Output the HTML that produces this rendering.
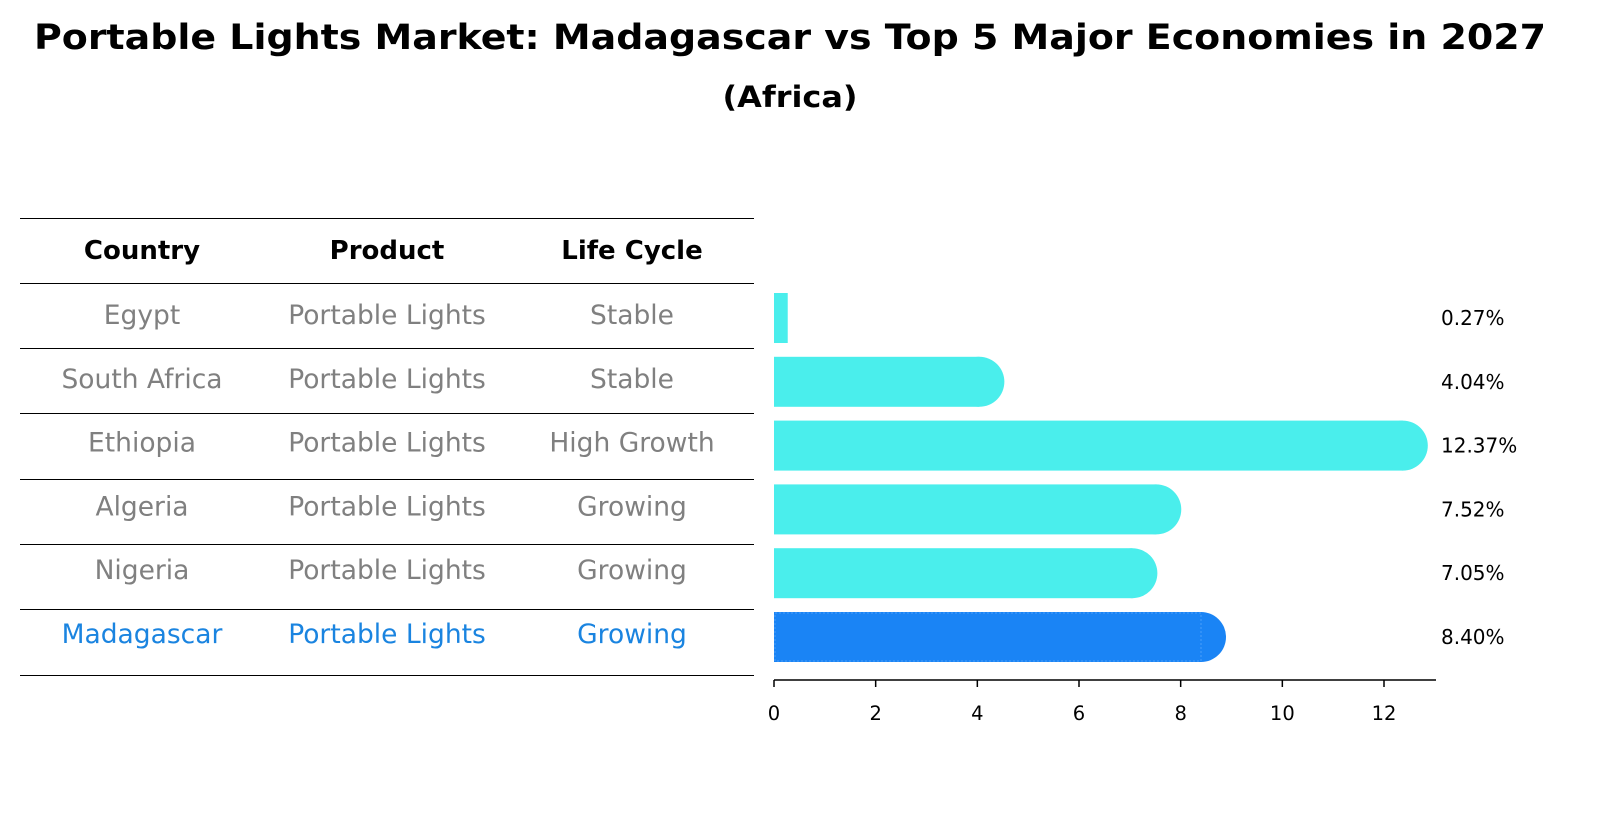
<!DOCTYPE html>
<html><head><meta charset="utf-8"><style>
body{margin:0;background:#fff;font-family:"Liberation Sans","DejaVu Sans",sans-serif}
</style></head><body>
<svg width="1604" height="823" xmlns="http://www.w3.org/2000/svg" font-family="DejaVu Sans, Liberation Sans, sans-serif">
<text x="790" y="49" text-anchor="middle" font-size="35" font-weight="bold" textLength="1512" lengthAdjust="spacingAndGlyphs">Portable Lights Market: Madagascar vs Top 5 Major Economies in 2027</text>
<text x="790" y="107" text-anchor="middle" font-size="29" font-weight="bold" textLength="135" lengthAdjust="spacingAndGlyphs">(Africa)</text>
<g id="table"></g>
<g id="bars"></g>
<g id="axis"></g>
</svg>
<script>
const countries=["Egypt","South Africa","Ethiopia","Algeria","Nigeria","Madagascar"];
const products=["Portable Lights","Portable Lights","Portable Lights","Portable Lights","Portable Lights","Portable Lights"];
const lifeCycles=["Stable","Stable","High Growth","Growing","Growing","Growing"];
const values=[0.27,4.04,12.37,7.52,7.05,8.40];
const xTicks=[0,2,4,6,8,10,12];
const NS="http://www.w3.org/2000/svg";
function mk(tag,attrs,parent){const e=document.createElementNS(NS,tag);for(const k in attrs)e.setAttribute(k,attrs[k]);parent.appendChild(e);return e;}
const x0=774,pxu=(1384-774)/12;
function xs(v){return x0+v*pxu;}
function rowY(i){return 318+i*63.8;}
const tbl=document.getElementById('table');
const lineYs=[218,283,348,413,479,544,609,675];
lineYs.forEach(y=>{const l=mk('line',{x1:20,x2:754,y1:y+0.5,y2:y+0.5,stroke:'#000','stroke-width':1},tbl);

});
const colX=[142,387,632];
["Country","Product","Life Cycle"].forEach((h,j)=>{const t=mk('text',{x:colX[j],y:259,'text-anchor':'middle','font-size':26,'font-weight':'bold'},tbl);t.textContent=h;

});
const bars=document.getElementById('bars');
countries.forEach((c,i)=>{
 const hi=i===countries.length-1;const col=hi?'#1a84e0':'#808080';
 [c,products[i],lifeCycles[i]].forEach((s,j)=>{const t=mk('text',{x:colX[j],y:rowY(i)+6,'text-anchor':'middle','font-size':26.5,fill:col},tbl);t.textContent=s;
 
 });
 const fill=hi?'#1a84f5':'#4aeeec';const cy=rowY(i),h=50,r=25;
 const xe=xs(values[i]);
 const g=mk('g',{},bars);
 
 
 mk('rect',{x:x0,y:cy-h/2,width:Math.max(0,xe-x0),height:h,fill:fill},g);
 if(values[i]>1)mk('circle',{cx:xe,cy:cy,r:r,fill:fill},g);
 if(hi)mk('rect',{x:x0+1,y:cy-h/2+1,width:Math.max(0,xe-x0-1),height:h-2,fill:'none',stroke:'#3a95f8','stroke-width':1.5,'stroke-dasharray':'2,2'},g);
 const t=mk('text',{x:1441,y:cy+7,'font-size':20},bars);t.textContent=values[i].toFixed(2)+'%';
 
 
});
const ax=document.getElementById('axis');
mk('line',{x1:x0,x2:1436,y1:680,y2:680,stroke:'#000','stroke-width':1.5},ax);
xTicks.forEach(v=>{mk('line',{x1:xs(v),x2:xs(v),y1:680,y2:687,stroke:'#000','stroke-width':1.5},ax);
 const t=mk('text',{x:xs(v),y:720,'text-anchor':'middle','font-size':19.5},ax);t.textContent=v;
 
 });
</script>
</body></html>
